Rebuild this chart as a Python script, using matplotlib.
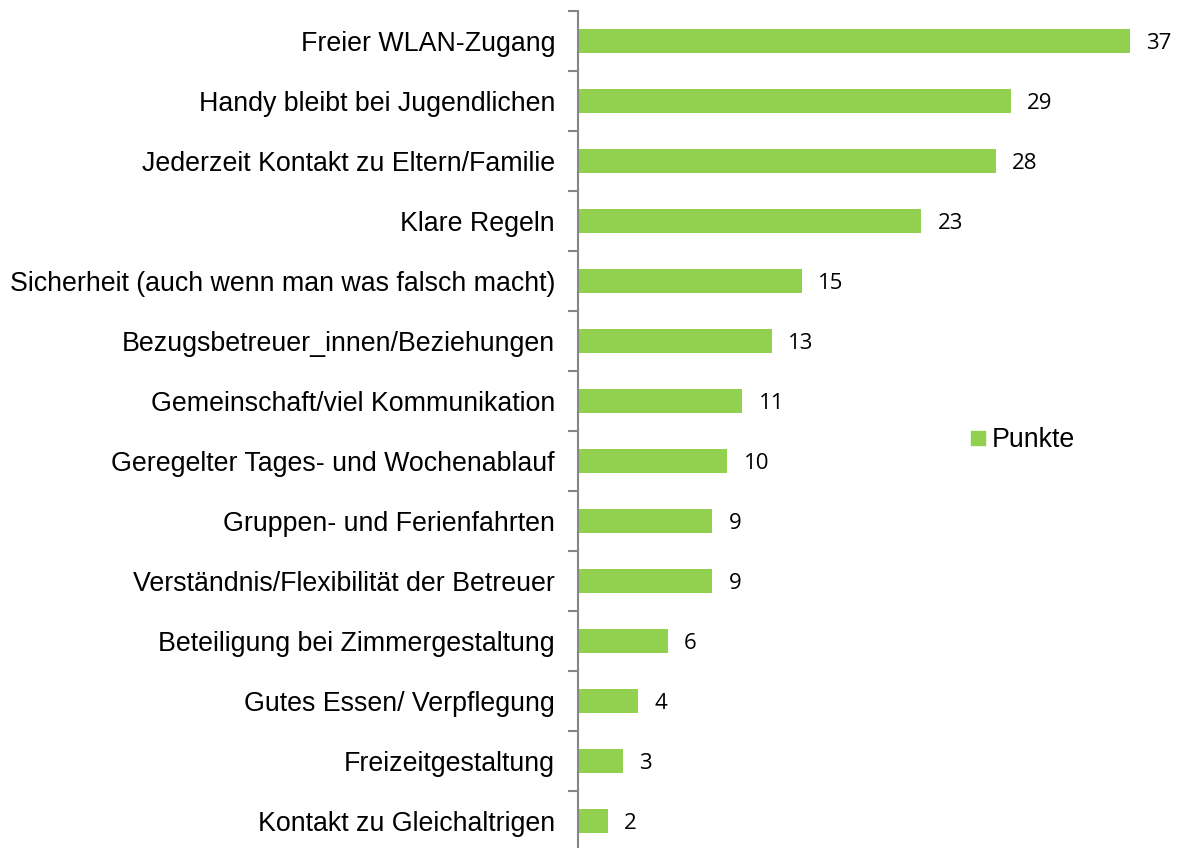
import matplotlib
matplotlib.use("Agg")
import matplotlib.pyplot as plt
from matplotlib.lines import Line2D

categories = [
    "Freier WLAN-Zugang",
    "Handy bleibt bei Jugendlichen",
    "Jederzeit Kontakt zu Eltern/Familie",
    "Klare Regeln",
    "Sicherheit (auch wenn man was falsch macht)",
    "Bezugsbetreuer_innen/Beziehungen",
    "Gemeinschaft/viel Kommunikation",
    "Geregelter Tages- und Wochenablauf",
    "Gruppen- und Ferienfahrten",
    "Verständnis/Flexibilität der Betreuer",
    "Beteiligung bei Zimmergestaltung",
    "Gutes Essen/ Verpflegung",
    "Freizeitgestaltung",
    "Kontakt zu Gleichaltrigen",
]
punkte = [37, 29, 28, 23, 15, 13, 11, 10, 9, 9, 6, 4, 3, 2]

green = "#92D050"
axis_grey = "#868686"

fig = plt.figure(figsize=(11.8, 8.48), dpi=100)
ax = fig.add_axes([578 / 1180, -3 / 848, (1175 - 578) / 1180, 840 / 848])

ypos = list(range(len(categories)))
ax.barh(ypos, punkte, height=0.39, color=green, zorder=2)
ax.set_ylim(len(categories) - 0.5, -0.5)
ax.set_xlim(0, (1175 - 578) / 14.92)

for y, v in zip(ypos, punkte):
    ax.text(v + 1.1, y, str(v), va="center_baseline", ha="left",
            fontsize=16, family="Open Sans", color="black")

# category labels
ax.set_yticks(ypos)
ax.set_yticklabels(categories, fontsize=19.3, family="Liberation Sans")
ax.tick_params(axis="y", length=0, pad=16.5)
# boundary ticks
ax.set_yticks([i - 0.5 for i in range(len(categories) + 1)], minor=True)
ax.tick_params(axis="y", which="minor", length=7, width=1.5, color=axis_grey)

ax.set_xticks([])
for s in ["top", "right", "bottom"]:
    ax.spines[s].set_visible(False)
ax.spines["left"].set_color(axis_grey)
ax.spines["left"].set_linewidth(1.5)

handle = Line2D([], [], marker="s", color="none", markerfacecolor=green,
                markeredgecolor=green, markersize=9.5)
fig.legend([handle], ["Punkte"], loc="center left",
           bbox_to_anchor=(943 / 1180, 1 - 440 / 848), frameon=False,
           prop={"family": "Liberation Sans", "size": 19.3},
           handletextpad=0.1, handlelength=0.8)

fig.savefig("out.png", dpi=100)
